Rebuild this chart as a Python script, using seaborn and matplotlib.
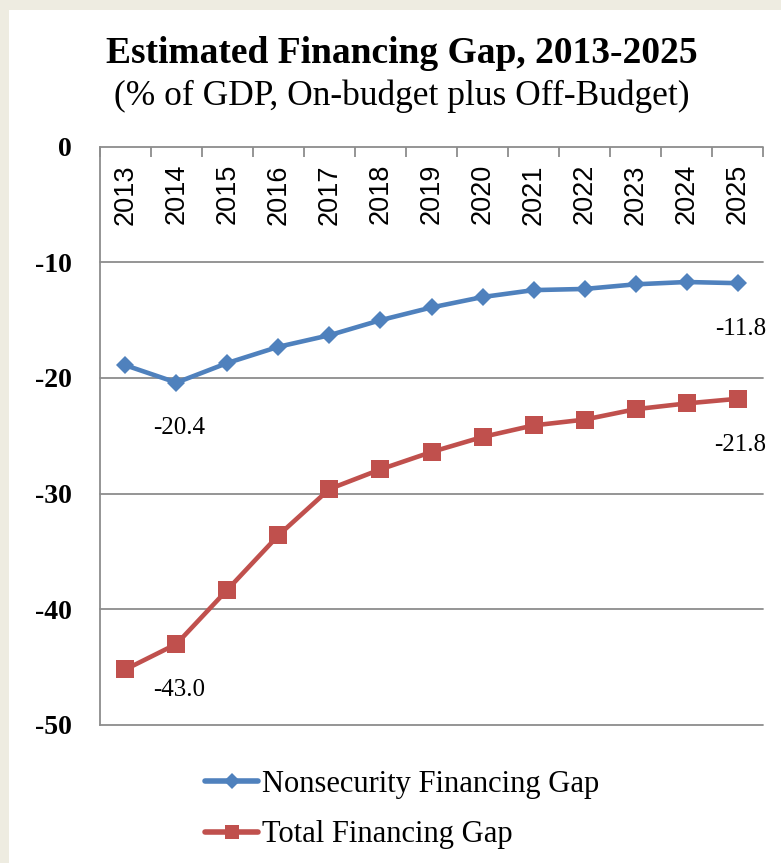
import matplotlib
matplotlib.use("Agg")
import matplotlib.pyplot as plt
import seaborn as sns
import numpy as np
import pandas as pd
from matplotlib.patches import Rectangle

years = ["2013", "2014", "2015", "2016", "2017", "2018", "2019",
         "2020", "2021", "2022", "2023", "2024", "2025"]
nonsecurity = [-18.9, -20.4, -18.7, -17.3, -16.3, -15.0, -13.9,
               -13.0, -12.4, -12.3, -11.9, -11.7, -11.8]
total = [-45.2, -43.0, -38.3, -33.6, -29.6, -27.9, -26.4,
         -25.1, -24.1, -23.6, -22.7, -22.2, -21.8]
series_names = ["Nonsecurity Financing Gap", "Total Financing Gap"]
yticks = [0, -10, -20, -30, -40, -50]
annotations = [(0, 1), (0, 12), (1, 1), (1, 12)]  # (series index, year index)

sns.set_style("white")
plt.rcParams["font.family"] = ["Liberation Serif", "DejaVu Serif"]
plt.rcParams["text.color"] = "black"
plt.rcParams["ytick.color"] = "black"
plt.rcParams["xtick.color"] = "black"

BLUE = "#4F81BD"
RED = "#C0504D"
GRID = "#8C8C8C"

fig = plt.figure(figsize=(7.81, 8.63), dpi=100)
fig.patch.set_facecolor("#EEECE1")
fig.patches.append(Rectangle((9 / 781, 0), 1, 1 - 10 / 863, transform=fig.transFigure,
                             facecolor="white", edgecolor="none", zorder=-10))

ax = fig.add_axes([0.128, 0.160, 0.849, 0.670])
ax.set_facecolor("white")
ax.set_zorder(1)

x = np.arange(len(years))
df = pd.DataFrame({"x": np.concatenate([x, x]),
                   "value": nonsecurity + total,
                   "series": [series_names[0]] * len(x) + [series_names[1]] * len(x)})

sns.lineplot(data=df[df.series == series_names[0]], x="x", y="value", ax=ax,
             color=BLUE, lw=3.3, marker="D", markersize=9.5, markeredgewidth=0,
             label=series_names[0], zorder=3)
sns.lineplot(data=df[df.series == series_names[1]], x="x", y="value", ax=ax,
             color=RED, lw=3.3, marker="s", markersize=13.5, markeredgewidth=0,
             label=series_names[1], zorder=3)

ax.set_xlim(-0.5, len(years) - 0.5)
ax.set_ylim(-50, 0)
ax.set_xlabel("")
ax.set_ylabel("")

# grid & spines
for s in ["top", "right", "bottom"]:
    ax.spines[s].set_visible(False)
ax.spines["left"].set_color(GRID)
ax.spines["left"].set_linewidth(1.3)
ax.set_yticks(yticks)
ax.set_yticklabels([str(v) for v in yticks], fontweight="bold", fontsize=20)
ax.yaxis.grid(True, color=GRID, lw=1.3, clip_on=False)
ax.tick_params(axis="y", direction="out", length=7, width=1.3, color=GRID,
               labelcolor="black", pad=13)

ax.xaxis.set_ticks_position("top")
ax.set_xticks(np.arange(-0.5, len(years), 1))
ax.set_xticklabels([])
ax.tick_params(axis="x", direction="in", length=7, width=1.3, color=GRID, top=True, bottom=False)

for i, yr in enumerate(years):
    ax.text(i, -1.5, yr, rotation=90, ha="center", va="top", fontsize=19.5,
            family=["Liberation Sans", "DejaVu Sans"])

data = [nonsecurity, total]
for si, yi in annotations:
    v = data[si][yi]
    ax.annotate(f"{v:.1f}", (yi, v), xytext=(2, -33), textcoords="offset points",
                ha="center", va="center", fontsize=18)

fig.text(0.515, 0.938, "Estimated Financing Gap, 2013-2025", ha="center", va="center",
         fontsize=27, fontweight="bold")
fig.text(0.515, 0.888, "(% of GDP, On-budget plus Off-Budget)", ha="center", va="center",
         fontsize=25.5)

leg = ax.legend(loc="upper left", bbox_to_anchor=(205 / 781, 1 - 770 / 863),
                bbox_transform=fig.transFigure, frameon=False, fontsize=22,
                handlelength=1.74, handletextpad=0.12, labelspacing=0.7,
                borderaxespad=0, borderpad=0)
for h, ms in zip(leg.legend_handles, [8.5, 10.5]):
    h.set_markersize(ms)
    h.set_linewidth(4)

fig.savefig("out.png", dpi=100)
